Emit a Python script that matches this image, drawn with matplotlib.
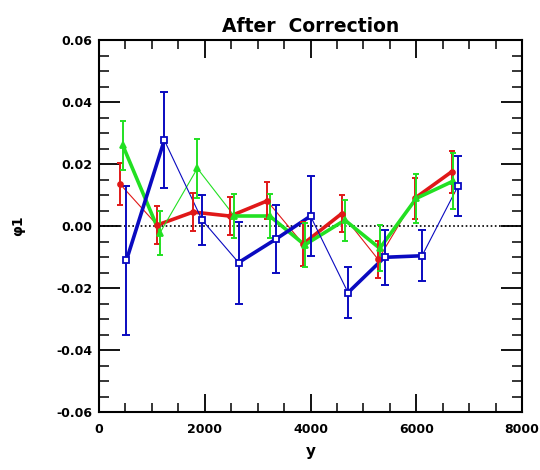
import numpy as np
import matplotlib
matplotlib.use("Agg")
import matplotlib.pyplot as plt
from matplotlib.ticker import MultipleLocator

# phi1 vs y after correction, three samples
red_x = [400, 1100, 1780, 2480, 3180, 3860, 4590, 5280, 5970, 6670]
red_y = [0.0135, 0.0003, 0.0045, 0.0032, 0.0081, -0.0058, 0.0040, -0.0108, 0.0089, 0.0175]
red_err = [0.0067, 0.0060, 0.0060, 0.0060, 0.0060, 0.0070, 0.0060, 0.0060, 0.0066, 0.0068]

green_x = [450, 1150, 1860, 2560, 3230, 3890, 4650, 5310, 6000, 6700]
green_y = [0.0260, -0.0023, 0.0186, 0.0032, 0.0032, -0.0061, 0.0019, -0.0072, 0.0089, 0.0145]
green_err = [0.0080, 0.0072, 0.0095, 0.0070, 0.0070, 0.0070, 0.0066, 0.0074, 0.0080, 0.0090]

blue_x = [520, 1235, 1950, 2640, 3340, 4000, 4710, 5400, 6110, 6790]
blue_y = [-0.0110, 0.0277, 0.0019, -0.0118, -0.0043, 0.0032, -0.0215, -0.0101, -0.0096, 0.0129]
blue_err = [0.0240, 0.0155, 0.0080, 0.0132, 0.0110, 0.0128, 0.0082, 0.0088, 0.0082, 0.0098]

xticks = [0, 2000, 4000, 6000, 8000]
yticks = [-0.06, -0.04, -0.02, 0.00, 0.02, 0.04, 0.06]

# heavy (1) / light (0) weight for each connecting segment
red_seg = [0, 1, 1, 1, 0, 1, 0, 0, 1]
green_seg = [1, 0, 0, 1, 1, 1, 1, 1, 1]
blue_seg = [1, 0, 0, 1, 1, 0, 1, 1, 0]

plt.rcParams['font.family'] = 'DejaVu Sans'
plt.rcParams['font.weight'] = 'bold'
plt.rcParams['axes.unicode_minus'] = False

fig = plt.figure(figsize=(5.4, 4.7), dpi=100)
ax = fig.add_axes([99/540, 1-412/470, 423/540, 372/470])

ax.axhline(0.0, color='black', lw=1.2, ls=(0, (1, 1.5)), zorder=1)

def draw(x, y, err, seg, color, marker, ms, mfc, capw):
    x = np.asarray(x)
    y = np.asarray(y)
    for i in range(len(x) - 1):
        lw = 2.6 if seg[i] else 0.8
        ax.plot(x[i:i+2], y[i:i+2], color=color, lw=lw, solid_capstyle='round', zorder=2)
    ax.errorbar(x, y, yerr=err, fmt='none', ecolor=color, elinewidth=1.4,
                capsize=capw, capthick=1.4, zorder=3)
    ax.plot(x, y, ls='none', marker=marker, ms=ms, color=color, mfc=mfc,
            mec=color, mew=1.3, zorder=4)

draw(red_x, red_y, red_err, red_seg, '#e01818', 'o', 3.5, '#e01818', 2.5)
draw(green_x, green_y, green_err, green_seg, '#22e022', '^', 5, '#22e022', 2.5)
draw(blue_x, blue_y, blue_err, blue_seg, '#0a0ac0', 's', 5, 'white', 3)

ax.set_xlim(0, 8000)
ax.set_ylim(-0.06, 0.06)
ax.set_xticks(xticks)
ax.set_yticks(yticks)
ax.set_xticklabels(['%d' % v for v in xticks])
ax.set_yticklabels(['%.2f' % v for v in yticks])
ax.xaxis.set_minor_locator(MultipleLocator(500))
ax.yaxis.set_minor_locator(MultipleLocator(0.005))

ax.tick_params(axis='x', which='major', direction='in', length=13, width=1.3,
               top=True, bottom=True, labelsize=9, pad=8)
ax.tick_params(axis='x', which='minor', direction='in', length=6.5, width=1.1,
               top=True, bottom=True)
ax.tick_params(axis='y', which='major', direction='in', length=15, width=1.3,
               left=True, right=True, labelsize=9, pad=5)
ax.tick_params(axis='y', which='minor', direction='in', length=7.5, width=1.1,
               left=True, right=True)
for s in ax.spines.values():
    s.set_linewidth(1.5)

ax.set_title('After  Correction', fontsize=13.5, fontweight='bold', pad=6)
ax.set_xlabel('y', fontsize=11, fontweight='bold', labelpad=6)
ax.set_ylabel('\u03c61', fontsize=10, fontweight='bold', labelpad=22)

fig.savefig('out.png', dpi=100)
